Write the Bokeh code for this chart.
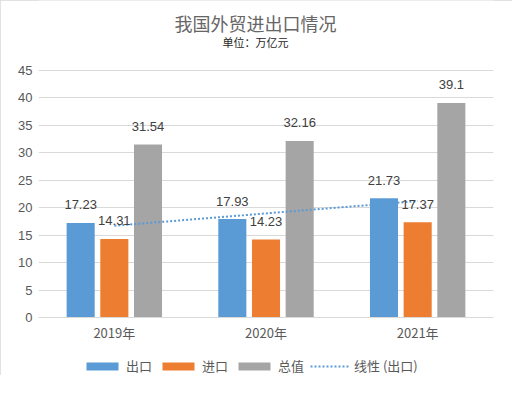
from bokeh.plotting import figure
from bokeh.models import Range1d, FixedTicker, Legend, LegendItem, Label, ColumnDataSource
from bokeh.embed import file_html
from bokeh.resources import INLINE
from bokeh.core.properties import value
import numpy as np

# ---- data ----
years = ["2019年", "2020年", "2021年"]
export_vals = [17.23, 17.93, 21.73]
import_vals = [14.31, 14.23, 17.37]
total_vals = [31.54, 32.16, 39.1]
series_names = ["出口", "进口", "总值"]
trend_name = "线性 (出口)"
y_ticks = [0, 5, 10, 15, 20, 25, 30, 35, 40, 45]
title_text = "我国外贸进出口情况"
subtitle_text = "单位：万亿元"

colors = ["#5B9BD5", "#ED7D31", "#A5A5A5"]
CJK = "Noto Sans CJK SC"
NUM = "Liberation Sans"

# frame covers the whole chart height; value 0 sits at 317px, 45 at 70px
px_per_unit = (317 - 70) / 45.0
frame_h = 375
y_top = 45 + 70 / px_per_unit
y_bot = -(frame_h - 317) / px_per_unit

p = figure(frame_width=455, frame_height=frame_h, output_backend="svg", toolbar_location=None,
           x_range=Range1d(-0.5, 2.5), y_range=Range1d(y_bot, y_top),
           min_border_left=38, min_border_right=19, min_border_top=0,
           min_border_bottom=0)
p.title.visible = False
p.outline_line_color = None
p.background_fill_color = "white"
p.border_fill_color = "white"
p.styles = {"outline": "1px solid #D9D9D9", "outline-offset": "-1px"}

# axes
p.xaxis.fixed_location = 0
p.xaxis.ticker = FixedTicker(ticks=list(range(len(years))))
p.xaxis.major_label_overrides = {i: y for i, y in enumerate(years)}
p.xaxis.major_tick_line_color = None
p.xaxis.major_tick_out = 0
p.xaxis.major_tick_in = 0
p.xaxis.minor_tick_line_color = None
p.xaxis.axis_line_color = "#D9D9D9"
p.xaxis.major_label_text_font = CJK
p.xaxis.major_label_text_font_size = "13px"
p.xaxis.major_label_text_color = "#595959"
p.xaxis.major_label_standoff = 5

p.yaxis.ticker = FixedTicker(ticks=y_ticks)
p.yaxis.axis_line_color = None
p.yaxis.major_tick_line_color = None
p.yaxis.major_tick_out = 0
p.yaxis.major_tick_in = 0
p.yaxis.minor_tick_line_color = None
p.yaxis.major_label_text_font = NUM
p.yaxis.major_label_text_font_size = "13px"
p.yaxis.major_label_text_color = "#595959"
p.yaxis.major_label_standoff = 6

p.xgrid.visible = False
p.ygrid.ticker = FixedTicker(ticks=y_ticks)
p.ygrid.grid_line_color = "#D9D9D9"

xs = np.arange(len(years))
offsets = [-0.222, 0.0, 0.222]
bar_w = 0.185
series = [export_vals, import_vals, total_vals]
renderers = []
for vals, off, col in zip(series, offsets, colors):
    src = ColumnDataSource(dict(x=xs + off, top=vals))
    r = p.vbar(x="x", top="top", bottom=0, width=bar_w, source=src, fill_color=col, line_color=None)
    renderers.append(r)

# trendline (linear fit of export)
coef = np.polyfit(xs, export_vals, 1)
tr = p.line(x=xs, y=np.polyval(coef, xs), line_color="#5B9BD5", line_width=2, line_dash="2 2")

for vals, off in zip(series, offsets):
    src = ColumnDataSource(dict(x=xs + off, y=vals, lab=[str(v) for v in vals]))
    p.text(x="x", y="y", text="lab", source=src, text_align="center", text_baseline="middle",
           y_offset=-18, text_font=value(NUM), text_font_size="13px", text_color="#404040")

# titles
p.add_layout(Label(x=0.93, y=45 + (70 - 22) / px_per_unit, text=title_text,
                   text_align="center", text_baseline="middle",
                   text_font=CJK, text_font_size="18px", text_color="#666666"))
p.add_layout(Label(x=0.93, y=45 + (70 - 41) / px_per_unit, text=subtitle_text,
                   text_align="center", text_baseline="middle",
                   text_font=CJK, text_font_size="11px", text_color="#262626"))

legend = Legend(items=[LegendItem(label=series_names[0], renderers=[renderers[0]]),
                       LegendItem(label=series_names[1], renderers=[renderers[1]]),
                       LegendItem(label=series_names[2], renderers=[renderers[2]]),
                       LegendItem(label=trend_name, renderers=[tr])],
                orientation="horizontal", location=(44, 0),
                glyph_width=40, glyph_height=10, label_height=14, label_standoff=4, spacing=6,
                padding=0, margin=0, border_line_color=None, background_fill_alpha=0,
                label_text_font=CJK, label_text_font_size="13px", label_text_color="#595959")
p.add_layout(legend)

open("out.html", "w").write(file_html(p, INLINE))
